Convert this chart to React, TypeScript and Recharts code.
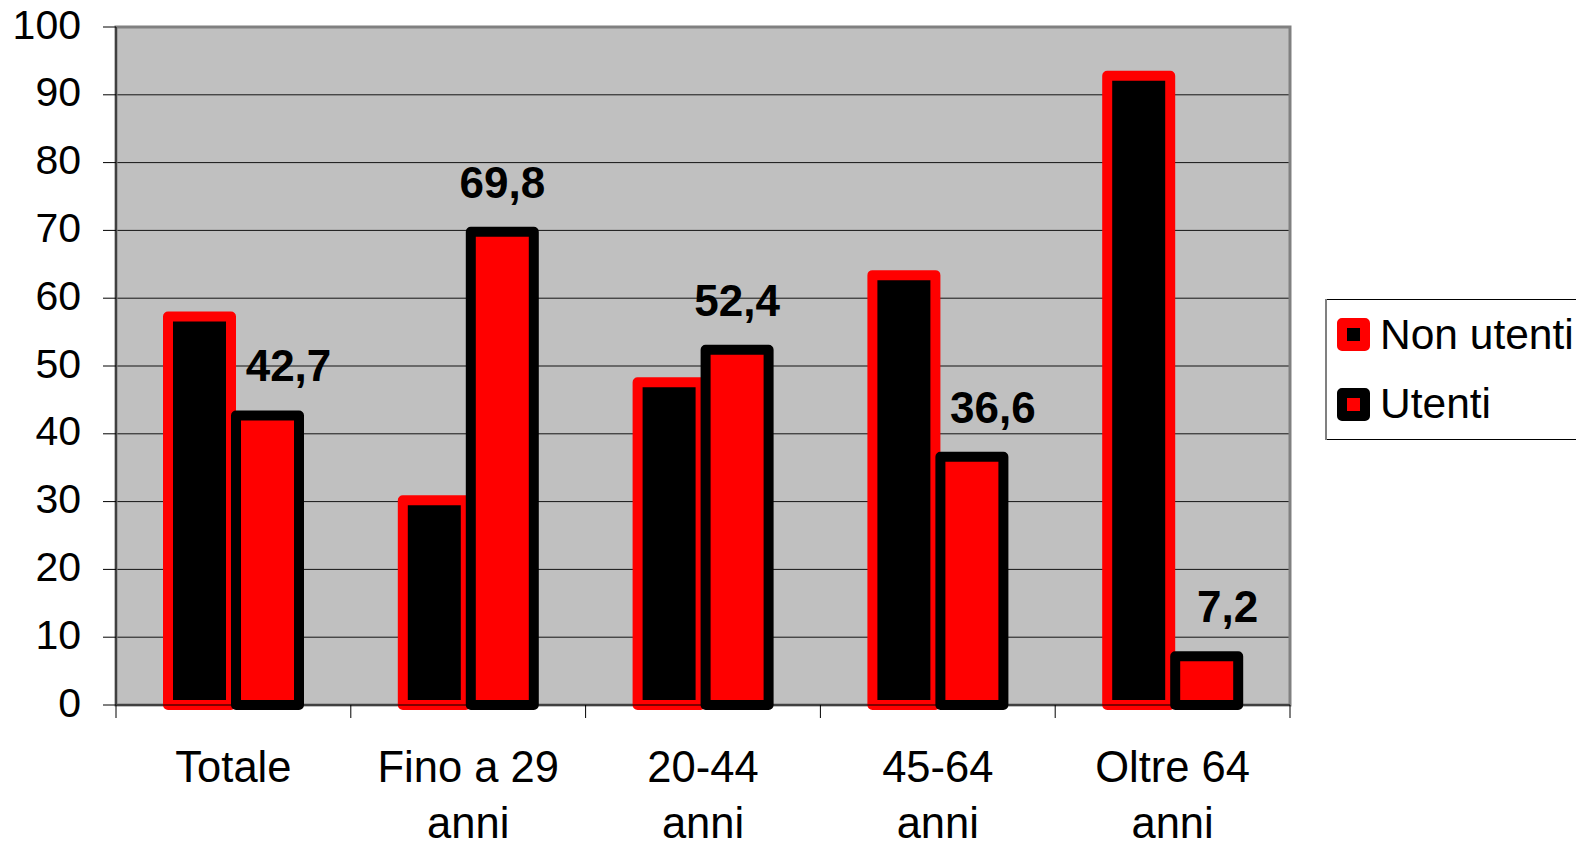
import React from "react";
import { BarChart, Bar, XAxis, YAxis, CartesianGrid, Legend, LabelList, ReferenceArea } from "recharts";

const categories = ["Totale", "Fino a 29 anni", "20-44 anni", "45-64 anni", "Oltre 64 anni"];
const tickLines = [["Totale"], ["Fino a 29", "anni"], ["20-44", "anni"], ["45-64", "anni"], ["Oltre 64", "anni"]];
const nonUtenti = [57.3, 30.2, 47.6, 63.4, 92.8];
const utenti = [42.7, 69.8, 52.4, 36.6, 7.2];
const yTicks = [0, 10, 20, 30, 40, 50, 60, 70, 80, 90, 100];

const data = categories.map((name, i) => ({ name, nonUtenti: nonUtenti[i], utenti: utenti[i] }));

const FONT = '"Liberation Sans", Arial, sans-serif';
const W = 1576;
const H = 835;
const PLOT_LEFT = 108;
const PLOT_RIGHT = 1282;
const BAND = (PLOT_RIGHT - PLOT_LEFT) / categories.length;

const CategoryTick = (props: any) => {
    const { x, y, payload, index } = props;
    const lines = tickLines[index] || [payload.value];
    const top = y - 8;
    return (
        <g>
            <line x1={x - BAND / 2} x2={x - BAND / 2} y1={top} y2={top + 13} stroke="#000" strokeWidth={1} />
            {index === categories.length - 1 && (
                <line x1={x + BAND / 2} x2={x + BAND / 2} y1={top} y2={top + 13} stroke="#000" strokeWidth={1} />
            )}
            <text x={x} y={top + 77} textAnchor="middle" fontFamily={FONT} fontSize={43.5} fill="#000">
                {lines.map((l: string, i: number) => (
                    <tspan key={i} x={x} dy={i === 0 ? 0 : 56}>{l}</tspan>
                ))}
            </text>
        </g>
    );
};

// value label above the Utenti bar; nudged right when the neighbouring bar is taller
const ValueLabel = (props: any) => {
    const { x, y, width, value, index } = props;
    const shift = nonUtenti[index] > utenti[index] ? 21 : 0;
    return (
        <text
            x={x + width / 2 + shift}
            y={y - 34}
            textAnchor="middle"
            fontFamily={FONT}
            fontSize={44}
            fontWeight="bold"
            fill="#000"
        >
            {String(value).replace(".", ",")}
        </text>
    );
};

const LegendBox = () => (
    <svg width={259} height={141} style={{ display: "block" }}>
        <line x1={0} y1={0.5} x2={259} y2={0.5} stroke="#000" strokeWidth={1} />
        <line x1={0} y1={140.5} x2={259} y2={140.5} stroke="#000" strokeWidth={1} />
        <line x1={1} y1={0} x2={1} y2={141} stroke="#808080" strokeWidth={2} />
        <rect x={17} y={24} width={23} height={23} fill="#000" stroke="#ff0000" strokeWidth={10} strokeLinejoin="round" />
        <text x={55} y={50} fontFamily={FONT} fontSize={42.5} fill="#000">Non utenti</text>
        <rect x={17} y={94} width={23} height={23} fill="#ff0000" stroke="#000" strokeWidth={10} strokeLinejoin="round" />
        <text x={55} y={119} fontFamily={FONT} fontSize={42.5} fill="#000">Utenti</text>
    </svg>
);

export default function App() {
    return (
        <div style={{ width: W, height: H }}>
            <BarChart
                width={W}
                height={H}
                data={data}
                margin={{ top: 19, right: W - PLOT_RIGHT, bottom: 0, left: 0 }}
                barSize={63}
                barGap={5}
            >
                <CartesianGrid vertical={false} fill="#c0c0c0" stroke="#000" strokeOpacity={0.9} />
                <ReferenceArea x1="Totale" x2="Oltre 64 anni" y1={0} y2={100} fill="none" stroke="#808080" strokeWidth={3} ifOverflow="visible" />
                <XAxis
                    dataKey="name"
                    height={H - 19 - 678}
                    tick={<CategoryTick />}
                    tickLine={false}
                    axisLine={{ stroke: "#000", strokeWidth: 1 }}
                    interval={0}
                />
                <YAxis
                    domain={[0, 100]}
                    ticks={yTicks}
                    interval={0}
                    width={PLOT_LEFT}
                    tickSize={13}
                    tickMargin={22}
                    tickLine={{ stroke: "#000", strokeWidth: 1 }}
                    axisLine={{ stroke: "#404040", strokeWidth: 2 }}
                    tick={{ fill: "#000", fontSize: 41, fontFamily: FONT, dy: -3 }}
                />
                <Legend
                    layout="horizontal"
                    align="center"
                    verticalAlign="middle"
                    content={() => <LegendBox />}
                    wrapperStyle={{ position: "absolute", left: 1317, top: 291, width: 259, height: 141 }}
                />
                <Bar dataKey="nonUtenti" name="Non utenti" fill="#000" stroke="#ff0000" strokeWidth={10} strokeLinejoin="round" isAnimationActive={false} />
                <Bar dataKey="utenti" name="Utenti" fill="#ff0000" stroke="#000" strokeWidth={10} strokeLinejoin="round" isAnimationActive={false}>
                    <LabelList dataKey="utenti" content={<ValueLabel />} />
                </Bar>
            </BarChart>
        </div>
    );
}
